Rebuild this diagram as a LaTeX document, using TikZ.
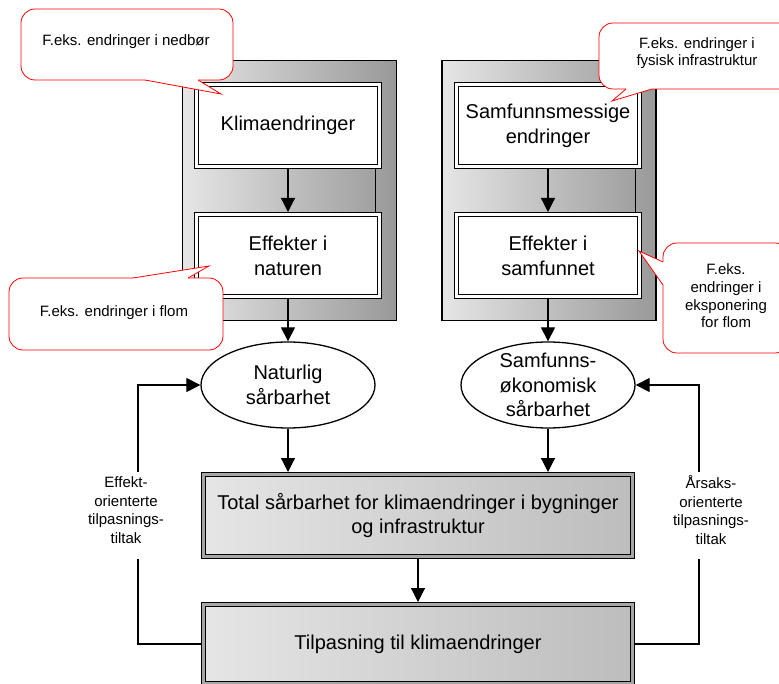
\documentclass[tikz,border=0pt]{standalone}
\usepackage{fontspec}
\setmainfont{Liberation Sans}
\usetikzlibrary{arrows.meta,shapes.geometric}
\newcommand\boxfont{\fontsize{20pt}{24.8pt}\selectfont}
\newcommand\callfont{\fontsize{15pt}{17.7pt}\selectfont}
\newcommand\sidefont{\fontsize{15pt}{18.7pt}\selectfont}
\begin{document}
\begin{tikzpicture}[x=1pt,y=-1pt,
  cont/.style={draw=black,line width=1.3pt,left color=gray!20,right color=gray!80,minimum width=214pt,minimum height=259.7pt,inner sep=0pt},
  wbox/.style={draw=black,line width=1.2pt,double=white,double distance=2.4pt,fill=white,minimum width=183.2pt,minimum height=82.2pt,inner sep=2pt,outer sep=2.4pt,align=center,font=\boxfont},
  gbox/.style={draw=black,line width=1.2pt,double=gray!70,double distance=2.4pt,left color=gray!20,right color=gray!52,minimum width=429.2pt,inner sep=2pt,outer sep=2.4pt,align=center,font=\boxfont},
  ell/.style={draw=black,line width=1.3pt,fill=white,ellipse,minimum width=174pt,minimum height=86pt,inner sep=0pt},
  txt/.style={align=center,font=\boxfont,inner sep=0pt},
  arr/.style={line width=1.2pt,-{Triangle[length=14pt,width=14pt]}},
  conn/.style={line width=1.2pt},
  callout/.style={draw=red,fill=white,line width=0.8pt,rounded corners=14pt,inner sep=0pt},
  calltxt/.style={align=center,font=\callfont,inner sep=0pt},
  side/.style={align=center,font=\sidefont,inner sep=0pt},
  ptr/.style={draw=red,line width=0.8pt,line join=miter}
]
\useasboundingbox (0,0) rectangle (779,684);
% containers
\node[cont] (lcont) at (289.5,190.5) {};
\node[cont] (rcont) at (549,190.5) {};
\draw[line width=0.9pt] (375,169) -- (375,212);
\draw[line width=0.9pt] (635,169) -- (635,212);
% boxes
\node[wbox] (klima) at (288,125.5) {Klimaendringer};
\node[wbox] (effn) at (288,255.5) {Effekter i\\naturen};
\node[wbox] (samm) at (548,125.5) {Samfunnsmessige\\endringer};
\node[wbox] (effs) at (548,255.5) {Effekter i\\samfunnet};
\node[ell] (nat) at (288,385) {};
\node[txt] (natt) at (nat) {Naturlig\\sårbarhet};
\node[ell] (sam) at (548,385) {};
\node[txt] (samt) at (sam) {Samfunns-\\økonomisk\\sårbarhet};
\node[gbox,minimum height=82.2pt] (tot) at (418,515.5) {Total sårbarhet for klimaendringer i bygninger\\og infrastruktur};
\node[gbox,minimum height=79.2pt] (tilp) at (418,644) {Tilpasning til klimaendringer};
% arrows
\draw[arr] (klima.south) -- (effn.north);
\draw[arr] (samm.south) -- (effs.north);
\draw[arr] (effn.south) -- (nat.north);
\draw[arr] (effs.south) -- (sam.north);
\draw[arr] (nat.south) -- (nat.south |- tot.north);
\draw[arr] (sam.south) -- (sam.south |- tot.north);
\draw[arr] (tot.south) -- (tilp.north);
% feedback loops
\coordinate (lx) at (138,0);
\coordinate (rx) at (699,0);
\draw[conn] (tilp.west) -| (lx |- tot.south);
\draw[arr] (lx |- tot.north) |- (nat.west);
\draw[conn] (tilp.east) -| (rx |- tot.south);
\draw[arr] (rx |- tot.north) |- (sam.east);
\node[side] (lt) at (126,510) {Effekt-\\orienterte\\tilpasnings-\\tiltak};
\node[side] (rt) at (711,510) {Årsaks-\\orienterte\\tilpasnings-\\tiltak};
% callouts
\node[callout,minimum width=212pt,minimum height=71pt] (c1) at (127,44.5) {};
\fill[white] (145,80) -- (221,94) -- (198,80) -- (198,77) -- (145,77) -- cycle;
\draw[ptr] (145,80) -- (221,94) -- (198,80);
\node[calltxt] (c1t) at (126,42) {F.eks. endringer i nedbør};
\node[callout,minimum width=214pt,minimum height=72pt] (c2) at (116,314) {};
\fill[white] (133,278) -- (209,266) -- (188,278) -- (188,281) -- (133,281) -- cycle;
\draw[ptr] (133,278) -- (209,266) -- (188,278);
\node[calltxt] (c2t) at (114,313) {F.eks. endringer i flom};
\node[callout,minimum width=196pt,minimum height=66pt] (c3) at (697,56) {};
\fill[white] (626,89) -- (612,101) -- (652,89) -- (652,86) -- (626,86) -- cycle;
\draw[ptr] (626,89) -- (612,101) -- (652,89);
\node[calltxt] (c3t) at (697,53) {F.eks. endringer i\\fysisk infrastruktur};
\node[callout,minimum width=126pt,minimum height=110pt] (c4) at (726,298) {};
\fill[white] (663,262) -- (639,251) -- (663,285) -- (666,285) -- (666,262) -- cycle;
\draw[ptr] (663,262) -- (639,251) -- (663,285);
\node[calltxt] (c4t) at (726,296) {F.eks.\\endringer i\\eksponering\\for flom};
\end{tikzpicture}
\end{document}
